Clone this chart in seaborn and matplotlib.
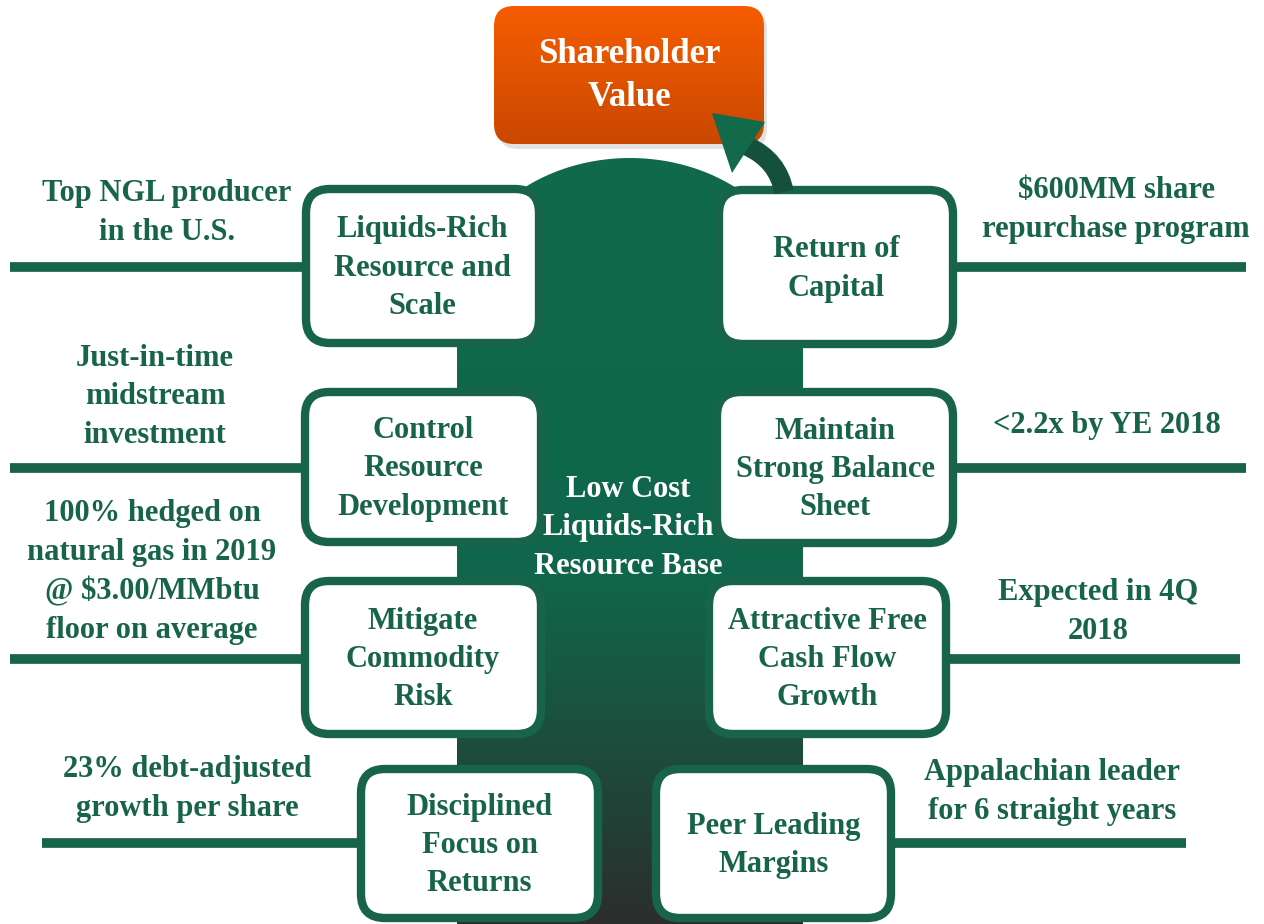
import numpy as np
import matplotlib
matplotlib.use("Agg")
import matplotlib.pyplot as plt
import seaborn as sns
from matplotlib.patches import FancyBboxPatch, Polygon, PathPatch
from matplotlib.path import Path
from matplotlib.colors import LinearSegmentedColormap

sns.set_theme(style="white")
plt.rcParams['font.family'] = ['Liberation Serif', 'DejaVu Serif']

# --- content ---
goal = "Shareholder\nValue"
base = "Low Cost\nLiquids-Rich\nResource Base"

left_boxes = ["Liquids-Rich\nResource and\nScale",
              "Control\nResource\nDevelopment",
              "Mitigate\nCommodity\nRisk",
              "Disciplined\nFocus on\nReturns"]
right_boxes = ["Return of\nCapital",
               "Maintain\nStrong Balance\nSheet",
               "Attractive Free\nCash Flow\nGrowth",
               "Peer Leading\nMargins"]
left_notes = ["Top NGL producer\nin the U.S.",
              "Just-in-time\nmidstream\ninvestment",
              "100% hedged on\nnatural gas in 2019\n@ $3.00/MMbtu\nfloor on average",
              "23% debt-adjusted\ngrowth per share"]
right_notes = ["$600MM share\nrepurchase program",
               "<2.2x by YE 2018",
               "Expected in 4Q\n2018",
               "Appalachian leader\nfor 6 straight years"]

# --- layout (pixel coords, y down) ---
left_rects = [(302, 185, 543, 347), (301, 388, 545, 546), (301, 577, 545, 738), (357, 765, 602, 922)]
right_rects = [(715, 186, 957, 348), (713, 388, 957, 547), (705, 577, 950, 738), (652, 765, 895, 922)]
left_lines = [(10, 267), (10, 468), (10, 659), (42, 843)]
right_lines = [(1246, 267), (1246, 468), (1240, 659), (1186, 843)]
left_note_xy = [(167, 213), (155, 397), (152, 572), (187, 789)]
right_note_xy = [(1116, 210), (1107, 425), (1098, 612), (1052, 792)]

GREEN = '#17644a'
W, H = 1264, 924
LS = 1.43

fig = plt.figure(figsize=(12.64, 9.24), dpi=100)
ax = fig.add_axes([0, 0, 1, 1])
ax.set_xlim(0, W)
ax.set_ylim(H, 0)
ax.axis('off')

# central column with dome top and vertical gradient
cx, cy, a, b = 630, 300, 173, 142
th = np.linspace(np.pi, 0, 80)
pts = list(zip(cx + a * np.cos(th), cy - b * np.sin(th)))
pts += [(cx + a, H + 5), (cx - a, H + 5)]
col_patch = Polygon(pts, closed=True, facecolor='none', edgecolor='none')
ax.add_patch(col_patch)
col_cmap = LinearSegmentedColormap.from_list(
    'col', [(0, '#0f6a4a'), (0.55, '#10664a'), (0.75, '#1b4f3d'), (1.0, '#2c2d2c')])
grad = np.linspace(0, 1, 256).reshape(-1, 1)
im = ax.imshow(grad, cmap=col_cmap, aspect='auto',
               extent=[cx - a, cx + a, H + 5, cy - b], zorder=1)
im.set_clip_path(col_patch)

# connector lines
for (x0, y0, x1, y1), (lx, ly) in zip(left_rects, left_lines):
    ax.plot([lx, x0 + 4], [ly, ly], color=GREEN, lw=7, solid_capstyle='butt', zorder=2)
for (x0, y0, x1, y1), (rx, ry) in zip(right_rects, right_lines):
    ax.plot([x1 - 4, rx], [ry, ry], color=GREEN, lw=7, solid_capstyle='butt', zorder=2)


def draw_box(rect, label):
    x0, y0, x1, y1 = rect
    p = FancyBboxPatch((x0 + 4, y0 + 4), x1 - x0 - 8, y1 - y0 - 8,
                       boxstyle="round,pad=0,rounding_size=24",
                       facecolor='white', edgecolor=GREEN, lw=6, zorder=3)
    ax.add_patch(p)
    ax.text((x0 + x1) / 2, (y0 + y1) / 2 + 2, label, ha='center', va='center',
            fontsize=22, fontweight='bold', color=GREEN, linespacing=LS, zorder=4)


for r, t in zip(left_rects, left_boxes):
    draw_box(r, t)
for r, t in zip(right_rects, right_boxes):
    draw_box(r, t)

# side notes
for (x, y), t in zip(left_note_xy + right_note_xy, left_notes + right_notes):
    ax.text(x, y, t, ha='center', va='center', fontsize=22, fontweight='bold',
            color=GREEN, linespacing=LS, zorder=4)

# column text
ax.text(628, 528, base, ha='center', va='center', fontsize=22, fontweight='bold',
        color='white', linespacing=LS, zorder=4)

# shareholder value box with gradient
shadow = FancyBboxPatch((498, 10), 269, 139, boxstyle="round,pad=0,rounding_size=20",
                        facecolor='#cfcfcf', edgecolor='none', alpha=0.6, zorder=2)
ax.add_patch(shadow)
sv = FancyBboxPatch((494, 6), 270, 138, boxstyle="round,pad=0,rounding_size=20",
                    facecolor='none', edgecolor='none', zorder=3)
ax.add_patch(sv)
or_cmap = LinearSegmentedColormap.from_list('or', ['#f65c00', '#e05300', '#c94800'])
im2 = ax.imshow(grad, cmap=or_cmap, aspect='auto', extent=[494, 764, 144, 6], zorder=3)
im2.set_clip_path(sv)
ax.text(629, 76, goal, ha='center', va='center', fontsize=25, fontweight='bold',
        color='white', linespacing=1.43, zorder=4)

# curved arrow
shaft = Path([(784, 192), (778, 160), (747, 146)], [Path.MOVETO, Path.CURVE3, Path.CURVE3])
ax.add_patch(PathPatch(shaft, facecolor='none', edgecolor='#14503b', lw=14,
                       capstyle='butt', zorder=5))
ax.add_patch(Polygon([(712, 113), (765, 122), (732, 173)], closed=True,
                     facecolor='#136a4a', edgecolor='none', zorder=6))

fig.savefig('out.png', dpi=100)
